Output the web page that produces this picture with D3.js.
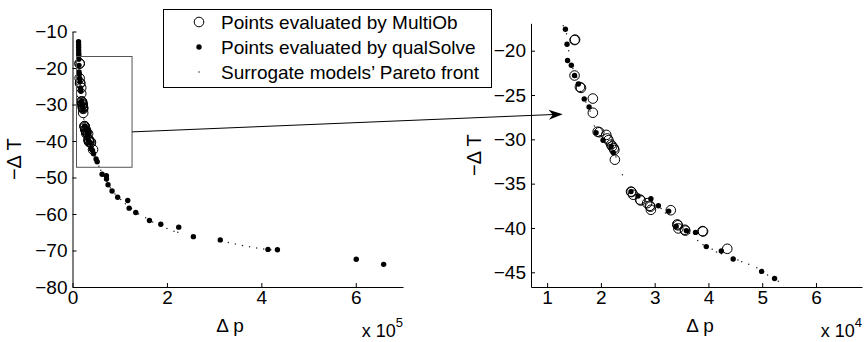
<!DOCTYPE html>
<html><head><meta charset="utf-8">
<script src="https://cdn.jsdelivr.net/npm/d3@7"></script>
<style>body{margin:0;background:#fff}svg{display:block;font-family:"Liberation Sans",Arial,Helvetica,sans-serif}</style>
</head><body><svg id="c" width="864" height="342"></svg>
<script>
// ---- data (Δp in Pa, −ΔT) ----
const multiObX = [15100,15200,15100,16300,16100,18500,18500,19400,19700,21000,21200,21400,21900,22100,22500,22400,22600,25600,25700,26000,27300,27400,28600,29200,29100,29300,33000,34200,34300,34400,35600,35700,38900,39000,43500];
const multiObY = [-18.8,-18.75,-22.8,-24.2,-24.1,-25.4,-27.0,-29.14,-29.2,-29.5,-29.9,-30.1,-30.6,-30.8,-31.2,-31.0,-32.3,-35.9,-35.95,-36.25,-36.8,-36.9,-37.2,-37.6,-37.5,-37.95,-38.0,-39.6,-39.7,-40.05,-40.2,-40.3,-40.35,-40.4,-42.35];
const qualX = [12800,12900,13000,13100,13200,13300,13400,13700,13800,14500,15100,15800,16900,17800,19100,20400,21900,22300,25600,26900,29300,30700,32600,34000,35900,37600,39600,42400,44600,49900,52300,62700,71800,72000,75300,83800,95700,117000,120000,134000,163000,187000,225000,256000,313000,414000,434000,601000,659000];
const qualY = [-12.8,-13.6,-14.4,-15.2,-16.0,-16.6,-17.58,-19.28,-21.1,-21.65,-22.8,-23.76,-25.45,-26.35,-29.25,-30.1,-30.8,-31.5,-35.9,-36.4,-36.7,-37.5,-38.1,-39.8,-40.3,-40.5,-42.1,-42.6,-43.5,-44.9,-45.7,-49.1,-49.5,-50.4,-52.0,-53.7,-55.4,-56.3,-58.4,-59.6,-61.8,-62.8,-63.6,-66.2,-67.1,-69.7,-69.8,-72.4,-73.8];
const frontX = [12700,13000,13600,14000,14800,15500,16200,17200,18000,18800,19800,20800,21800,22800,24000,25500,27000,28500,30000,31200,32000,33500,35000,36500,38000,39000,40700,41500,42400,45500,46200,47500,49000,51000,53000,56000,60000,66000,73000,80000,90000,102000,112000,125000,140000,155000,170000,185000,200000,215000,223000,315000,330000,345000,360000,375000,390000,405000,420000];
const frontY = [-16.8,-17.2,-18.1,-20.0,-22.0,-23.0,-24.6,-25.8,-26.8,-28.5,-29.6,-30.3,-31.0,-32.0,-34.0,-35.7,-36.5,-37.0,-37.4,-37.8,-38.3,-39.4,-40.0,-40.6,-41.4,-41.9,-42.4,-42.7,-42.9,-43.6,-43.8,-44.1,-44.5,-45.3,-46.0,-46.9,-48.0,-49.6,-51.0,-52.8,-54.5,-56.0,-57.2,-58.5,-60.0,-61.0,-62.2,-63.2,-64.0,-64.7,-65.0,-67.4,-67.8,-68.2,-68.6,-69.0,-69.3,-69.6,-69.8];
const leftXTicks = [0,200000,400000,600000];
const leftYTicks = [-80,-70,-60,-50,-40,-30,-20,-10];
const rightXTicks = [10000,20000,30000,40000,50000,60000];
const rightYTicks = [-45,-40,-35,-30,-25,-20];
const leftXDomain = [0,700000], leftYDomain = [-80,-10];
const rightXDomain = [7000,68560], rightYDomain = [-46.66,-16.91];
const zoomBoxX = [8450,126100], zoomBoxY = [-47.2,-16.85];
const arrowFrom = [126100,-37.5], arrowTo = [12900,-27.17];
const legendLabels = ["Points evaluated by MultiOb","Points evaluated by qualSolve","Surrogate models\u2019 Pareto front"];
const xLabel = "\u0394 p", yLabel = "\u2212\u0394 T";
const leftExp = "5", rightExp = "4";

// ---- drawing ----
const svg = d3.select("#c");
const FS = 19;
const fmt = v => (v<0?"\u2212":"")+Math.abs(v);

const L = {x: d3.scaleLinear().domain(leftXDomain).range([72.5,403]),
           y: d3.scaleLinear().domain(leftYDomain).range([287,31.5])};
const R = {x: d3.scaleLinear().domain(rightXDomain).range([531,862]),
           y: d3.scaleLinear().domain(rightYDomain).range([287,23.3])};

const pts = (xs,ys)=>xs.map((x,i)=>({x,y:ys[i]}));
const front = pts(frontX,frontY), qual = pts(qualX,qualY), multi = pts(multiObX,multiObY);

function panel(S, id, xt, yt, xdiv, exp, ylabX, xlabX){
  const [x0,x1]=S.x.range(), [y0,y1]=S.y.range();
  svg.append("clipPath").attr("id",id).append("rect")
    .attr("x",x0).attr("y",y1-6).attr("width",x1-x0+2).attr("height",y0-y1+6);
  const g = svg.append("g").attr("clip-path",`url(#${id})`);
  g.append("g").selectAll("circle").data(front.filter(d=>d.y<=S.y.domain()[1]+0.01)).join("circle")
    .attr("cx",d=>S.x(d.x)).attr("cy",d=>S.y(d.y)).attr("r",0.75).attr("fill","#222");
  g.append("g").selectAll("circle").data(qual.filter(d=>d.y<=S.y.domain()[1]+0.3)).join("circle")
    .attr("cx",d=>S.x(d.x)).attr("cy",d=>S.y(d.y)).attr("r",2.7).attr("fill","#000");
  g.append("g").selectAll("circle").data(multi).join("circle")
    .attr("cx",d=>S.x(d.x)).attr("cy",d=>S.y(d.y)).attr("r",4.8)
    .attr("fill","none").attr("stroke","#000").attr("stroke-width",1);
  const ax = d3.axisBottom(S.x).tickValues(xt).tickSizeInner(-4).tickSizeOuter(0).tickPadding(4)
    .tickFormat(v=>fmt(v/xdiv));
  const ay = d3.axisLeft(S.y).tickValues(yt).tickSizeInner(-4).tickSizeOuter(0).tickPadding(5)
    .tickFormat(fmt);
  const gx = svg.append("g").attr("transform",`translate(0,${y0})`).call(ax);
  const gy = svg.append("g").attr("transform",`translate(${x0},0)`).call(ay);
  [gx,gy].forEach(a=>{a.attr("font-size",FS).attr("font-family",null);
    a.selectAll("path,line").attr("stroke","#000");
    a.selectAll("text").attr("fill","#000");});
  svg.append("text").attr("transform",`translate(${ylabX},${(y0+y1)/2}) rotate(-90)`)
    .attr("text-anchor","middle").attr("font-size",FS+1).attr("fill","#000").text(yLabel);
  svg.append("text").attr("x",xlabX).attr("y",332).attr("text-anchor","middle")
    .attr("font-size",FS).attr("fill","#000").text(xLabel);
  const t = svg.append("text").attr("x",x1).attr("y",337).attr("text-anchor","end")
    .attr("font-size",FS-1).attr("fill","#000");
  t.append("tspan").text("x 10");
  t.append("tspan").attr("dy",-10).attr("font-size",13).text(exp);
}
panel(L,"cl",leftXTicks,leftYTicks,1e5,leftExp,21,230);
panel(R,"cr",rightXTicks,rightYTicks,1e4,rightExp,481,700);

// zoom box
svg.append("rect").attr("x",L.x(zoomBoxX[0])).attr("y",L.y(zoomBoxY[1]))
  .attr("width",L.x(zoomBoxX[1])-L.x(zoomBoxX[0])).attr("height",L.y(zoomBoxY[0])-L.y(zoomBoxY[1]))
  .attr("fill","none").attr("stroke","#555").attr("stroke-width",1);

// arrow
const p0=[L.x(arrowFrom[0]),L.y(arrowFrom[1])], p1=[R.x(arrowTo[0]),R.y(arrowTo[1])];
svg.append("line").attr("x1",p0[0]).attr("y1",p0[1]).attr("x2",p1[0]-3).attr("y2",p1[1])
  .attr("stroke","#000").attr("stroke-width",1);
const ang = Math.atan2(p1[1]-p0[1],p1[0]-p0[0])*180/Math.PI;
svg.append("path").attr("transform",`translate(${p1[0]},${p1[1]}) rotate(${ang})`)
  .attr("d","M0,0L-14,-5L-10,0L-14,5Z").attr("fill","#000");

// legend
const lg = svg.append("g");
lg.append("rect").attr("x",163.5).attr("y",9.5).attr("width",328).attr("height",78)
  .attr("fill","#fff").attr("stroke","#000").attr("stroke-width",1);
const rows=[22,47,72];
lg.append("circle").attr("cx",199).attr("cy",rows[0]).attr("r",4.8).attr("fill","none").attr("stroke","#000");
lg.append("circle").attr("cx",199).attr("cy",rows[1]).attr("r",2.7).attr("fill","#000");
lg.append("circle").attr("cx",199).attr("cy",rows[2]).attr("r",0.75).attr("fill","#222");
lg.selectAll("text.l").data(legendLabels).join("text").attr("class","l")
  .attr("x",221).attr("y",(d,i)=>rows[i]).attr("dy","0.35em").attr("font-size",FS).attr("fill","#000").text(d=>d);
</script></body></html>
